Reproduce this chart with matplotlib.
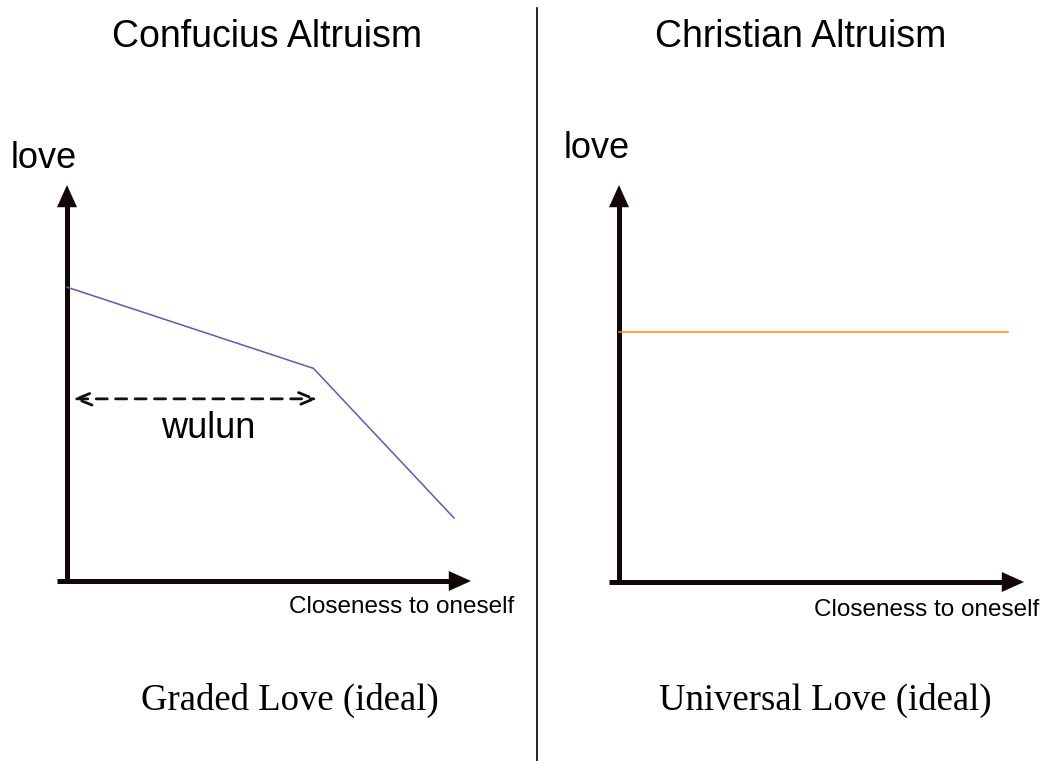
import matplotlib.pyplot as plt
from matplotlib.lines import Line2D

W, H = 1049, 761

# data (axes drawn 0..10 on both axes)
graded_x = [0, 6.1, 9.58]
graded_y = [7.42, 5.37, 1.59]
universal_x = [0, 9.6]
universal_y = [6.3, 6.3]
wulun_span = [0.15, 6.2]
wulun_y = 4.6

titles = ["Confucius Altruism", "Christian Altruism"]
captions = ["Graded Love (ideal)", "Universal Love (ideal)"]
ylab = "love"
xlab = "Closeness to oneself"

sans = ["Liberation Sans", "DejaVu Sans"]
serif = ["Liberation Serif", "DejaVu Serif"]
axcol = "#120606"

fig = plt.figure(figsize=(W / 100, H / 100), dpi=100)


def px_axes(x0, y0, x1, y1):
    # origin and arrow tip given in pixels from the top-left corner
    return fig.add_axes([x0 / W, 1 - y0 / H, (x1 - x0) / W, (y0 - y1) / H])


def draw_axes(ax):
    ax.set_xlim(0, 10)
    ax.set_ylim(0, 10)
    ax.axis("off")
    t = ax.transAxes
    ax.plot([-0.025, 0.97], [0, 0], color=axcol, lw=3.6, transform=t,
            clip_on=False, solid_capstyle="butt")
    ax.plot([0, 0], [-0.006, 0.97], color=axcol, lw=3.6, transform=t,
            clip_on=False, solid_capstyle="butt")
    hp = dict(arrowstyle="-|>,head_length=1.0,head_width=0.45", lw=0,
              mutation_scale=16, fc=axcol, ec=axcol, shrinkA=0, shrinkB=0)
    ax.annotate("", xy=(1.0, 0), xytext=(0.9, 0), xycoords="axes fraction",
                arrowprops=hp, annotation_clip=False)
    ax.annotate("", xy=(0, 1.0), xytext=(0, 0.9), xycoords="axes fraction",
                arrowprops=hp, annotation_clip=False)


ax1 = px_axes(67, 581, 471, 185)
draw_axes(ax1)
ax1.plot(graded_x, graded_y, color="#5a5ab8", lw=1.1, clip_on=False)
ax1.annotate("", xy=(wulun_span[1], wulun_y), xytext=(wulun_span[0], wulun_y),
             arrowprops=dict(arrowstyle="<->,head_length=1.1,head_width=0.45",
                             lw=2, ls=(0, (4, 3)), color="#111111",
                             shrinkA=0, shrinkB=0))
ax1.text(3.49, 3.85, "wulun", fontsize=26, family=sans, ha="center", va="center")

ax2 = px_axes(619, 582, 1024, 185)
draw_axes(ax2)
ax2.plot(universal_x, universal_y, color="#ff8a00", lw=1.1, clip_on=False)

# text labels
fig.text(267 / W, 1 - 37 / H, titles[0], fontsize=27, family=sans, ha="center", va="center")
fig.text(801 / W, 1 - 37 / H, titles[1], fontsize=27, family=sans, ha="center", va="center")
fig.text(11 / W, 1 - 158 / H, ylab, fontsize=26, family=sans, ha="left", va="center")
fig.text(564 / W, 1 - 148 / H, ylab, fontsize=26, family=sans, ha="left", va="center")
fig.text(289 / W, 1 - 607 / H, xlab, fontsize=17.5, family=sans, ha="left", va="center")
fig.text(814 / W, 1 - 610 / H, xlab, fontsize=17.5, family=sans, ha="left", va="center")
fig.text(290 / W, 1 - 700 / H, captions[0], fontsize=26.5, family=serif, ha="center", va="center")
fig.text(825 / W, 1 - 700 / H, captions[1], fontsize=26.5, family=serif, ha="center", va="center")

# divider
fig.add_artist(Line2D([537 / W, 537 / W], [1 - 8 / H, 0], color="black", lw=1.2))

fig.savefig("out.png", dpi=100)
